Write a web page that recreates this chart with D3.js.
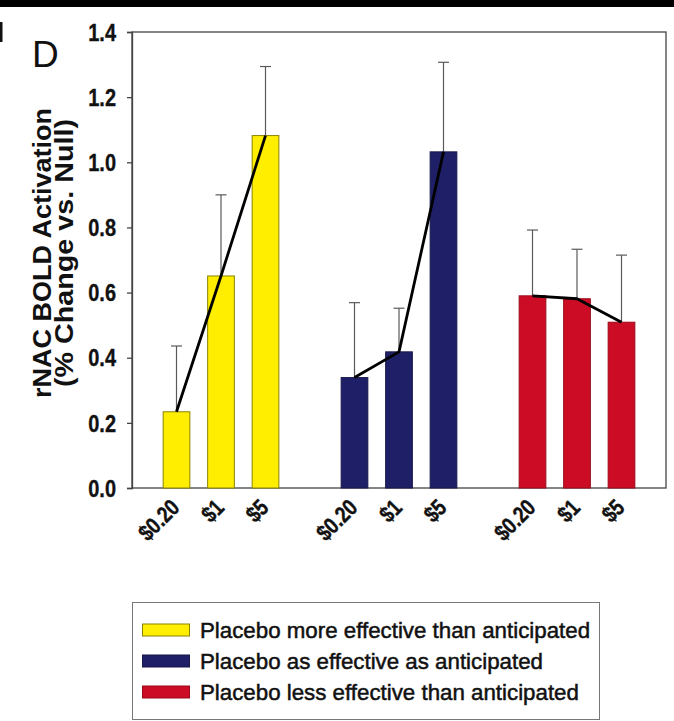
<!DOCTYPE html>
<html>
<head>
<meta charset="utf-8">
<script src="https://cdn.jsdelivr.net/npm/d3@7/dist/d3.min.js"></script>
<style>
  html, body { margin: 0; padding: 0; background: #fff; }
  svg { display: block; font-family: "Liberation Sans", Arial, Helvetica, sans-serif; }
</style>
</head>
<body>
<svg id="chart" width="674" height="721"></svg>
<script>
// ---- data ----
const groups = ["Placebo more effective than anticipated",
                "Placebo as effective as anticipated",
                "Placebo less effective than anticipated"];
const doses = ["$0.20", "$1", "$5"];
const moreValues = [0.234, 0.651, 1.082];
const moreErrors = [0.202, 0.249, 0.212];
const asValues   = [0.339, 0.418, 1.032];
const asErrors   = [0.230, 0.134, 0.275];
const lessValues = [0.590, 0.581, 0.509];
const lessErrors = [0.202, 0.152, 0.206];
const yTicks = [0.0, 0.2, 0.4, 0.6, 0.8, 1.0, 1.2, 1.4];
const groupColors = ["#ffee00", "#1e1f66", "#cc0c24"];
const groupStrokes = ["#8a8200", "#16174a", "#9a0a1c"];

const seriesValues = [moreValues, asValues, lessValues];
const seriesErrors = [moreErrors, asErrors, lessErrors];

(function () {
const svg = d3.select("#chart");
const FONT = "'Liberation Sans', Arial, sans-serif";

function condense(sel, factor) {
  sel.each(function () {
    const w = this.getComputedTextLength();
    d3.select(this).attr("textLength", w * factor).attr("lengthAdjust", "spacingAndGlyphs");
  });
}

// top black band and panel letter
svg.append("rect").attr("x", 0).attr("y", 0).attr("width", 674).attr("height", 7).attr("fill", "#000");
svg.append("rect").attr("x", 0).attr("y", 22).attr("width", 2.5).attr("height", 20).attr("fill", "#111");
svg.append("text").attr("x", 32).attr("y", 67).attr("font-size", 37).attr("fill", "#111").text("D");

const pL = 132, pR = 666, pT = 32, pB = 488;
const y = d3.scaleLinear().domain([0, 1.4]).range([pB, pT]);
const x = d3.scaleLinear().domain([0, 12]).range([pL, pR]);
const barW = (x(1) - x(0)) * 0.6;

const rows = [];
groups.forEach((g, gi) => {
  doses.forEach((d, di) => {
    rows.push({ group: gi, dose: d, slot: gi * 4 + di + 1,
                value: seriesValues[gi][di], err: seriesErrors[gi][di] });
  });
});

// frame
svg.append("rect").attr("x", pL).attr("y", pT).attr("width", pR - pL).attr("height", pB - pT)
  .attr("fill", "none").attr("stroke", "#444").attr("stroke-width", 1.3);

// error bars
const eb = svg.append("g").attr("stroke", "#5a5a5a").attr("stroke-width", 1.2);
rows.forEach(r => {
  const cx = x(r.slot);
  eb.append("line").attr("x1", cx).attr("x2", cx).attr("y1", y(r.value)).attr("y2", y(r.value + r.err));
  eb.append("line").attr("x1", cx - 5.5).attr("x2", cx + 5.5).attr("y1", y(r.value + r.err)).attr("y2", y(r.value + r.err));
});

// bars
svg.append("g").selectAll("rect").data(rows).join("rect")
  .attr("x", d => x(d.slot) - barW / 2)
  .attr("y", d => y(d.value))
  .attr("width", barW)
  .attr("height", d => y(0) - y(d.value))
  .attr("fill", d => groupColors[d.group])
  .attr("stroke", d => groupStrokes[d.group])
  .attr("stroke-width", 1);

// connecting lines
const line = d3.line().x(d => x(d.slot)).y(d => y(d.value));
groups.forEach((g, gi) => {
  svg.append("path").datum(rows.filter(r => r.group === gi))
    .attr("d", line).attr("fill", "none").attr("stroke", "#000").attr("stroke-width", 2.8)
    .attr("stroke-linejoin", "round");
});

// y axis
const yAxis = svg.append("g").attr("transform", `translate(${pL},0)`)
  .call(d3.axisLeft(y).tickValues(yTicks).tickFormat(d3.format(".1f")).tickSize(5).tickPadding(11));
yAxis.select(".domain").attr("stroke", "#444").attr("stroke-width", 1.3);
yAxis.selectAll(".tick line").attr("stroke", "#444").attr("stroke-width", 1.3);
const yTxt = yAxis.selectAll("text").attr("font-size", 23.5).attr("font-weight", "bold").attr("fill", "#111")
  .attr("stroke", "#111").attr("stroke-width", 0.35)
  .attr("font-family", FONT).attr("dy", "0.35em");
condense(yTxt, 0.85);

// x axis labels
const xAxis = svg.append("g").attr("transform", `translate(0,${pB})`)
  .call(d3.axisBottom(x).tickValues(rows.map(r => r.slot)).tickFormat((d, i) => rows[i].dose).tickSize(0));
xAxis.select(".domain").remove();
const xTxt = xAxis.selectAll("text")
  .attr("font-size", 23).attr("font-weight", "bold").attr("fill", "#111")
  .attr("stroke", "#111").attr("stroke-width", 0.35)
  .attr("font-family", FONT)
  .attr("text-anchor", "end").attr("x", 0).attr("y", 0).attr("dy", null)
  .attr("transform", "translate(4,21) rotate(-45)");
condense(xTxt, 0.82);

// y title
const yt = svg.append("g").attr("transform", "translate(0,253)");
yt.append("text").attr("transform", "translate(51,0) rotate(-90)")
  .attr("text-anchor", "middle").attr("font-size", 26.5).attr("font-weight", "bold").attr("fill", "#111")
  .attr("font-family", FONT).attr("textLength", 290).attr("lengthAdjust", "spacingAndGlyphs")
  .text("rNAC BOLD Activation");
yt.append("text").attr("transform", "translate(73,0) rotate(-90)")
  .attr("text-anchor", "middle").attr("font-size", 26.5).attr("font-weight", "bold").attr("fill", "#111")
  .attr("font-family", FONT).attr("textLength", 268).attr("lengthAdjust", "spacingAndGlyphs")
  .text("(% Change vs. Null)");

// legend
const lg = svg.append("g");
lg.append("rect").attr("x", 132.5).attr("y", 602.5).attr("width", 467).attr("height", 117)
  .attr("fill", "#fff").attr("stroke", "#777").attr("stroke-width", 1);
groups.forEach((g, gi) => {
  const yy = 624 + gi * 31;
  lg.append("rect").attr("x", 142.5).attr("y", yy).attr("width", 47).attr("height", 12)
    .attr("fill", groupColors[gi]).attr("stroke", groupStrokes[gi]).attr("stroke-width", 1);
  lg.append("text").attr("x", 200).attr("y", yy + 14).attr("font-size", 22.3).attr("fill", "#111")
    .attr("stroke", "#111").attr("stroke-width", 0.5).attr("font-family", FONT)
    .text(g);
});
})();
</script>
</body>
</html>
